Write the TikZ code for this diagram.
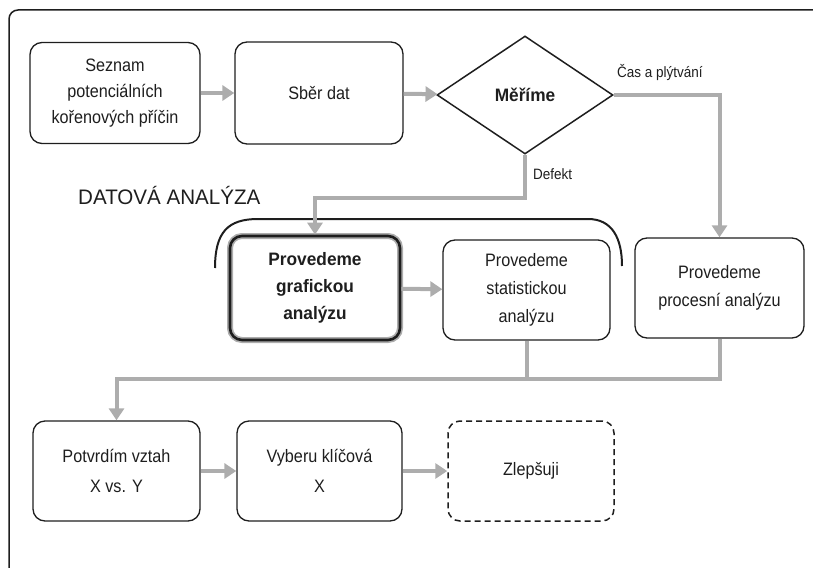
\documentclass[tikz,border=0pt]{standalone}
\usepackage{fontspec}
\setmainfont{Liberation Sans}[FakeStretch=0.9, BoldFeatures={FakeStretch=0.96}]
\newfontfamily\headfont{Liberation Sans}[FakeStretch=0.98]
\usetikzlibrary{shapes.geometric,arrows.meta}
\definecolor{ink}{HTML}{1E1E1E}
\definecolor{flow}{HTML}{ADADAD}
\tikzset{
  box/.style={draw=ink, line width=1.3pt, rounded corners=12pt, align=center,
    inner sep=0pt, text=ink, font=\fontsize{18}{26}\selectfont},
  keybox/.style={box, line width=2.6pt, font=\fontsize{18}{27}\bfseries,
    preaction={draw=flow, line width=6pt}},
  planbox/.style={box, dash pattern=on 6pt off 4pt, line width=1.5pt},
  decision/.style={diamond, draw=ink, line width=1.5pt, inner sep=0pt, text=ink,
    font=\fontsize{18}{20}\bfseries},
  flowline/.style={draw=flow, line width=4pt},
  flowarrow/.style={flowline, -{Triangle[length=12pt,width=15pt,fill=flow]}},
  tag/.style={text=ink, font=\fontsize{15}{17}\selectfont, inner sep=0pt},
}
\begin{document}
\begin{tikzpicture}[x=1pt,y=-1pt]
\useasboundingbox (0,0) rectangle (813,567);

% outer frame, cut by the page on the right and at the bottom
\draw[ink, line width=1.5pt, rounded corners=9pt] (9,570) -- (9,10) -- (816,10);

% first row
\node[box, minimum width=170pt, minimum height=101pt] (list) at (115,93)
  {Seznam\\potenciálních\\kořenových příčin};
\node[box, minimum width=168pt, minimum height=102pt] (collect) at (319,93) {Sběr dat};
\node[decision, minimum width=176pt, minimum height=118pt] (measure) at (525,95) {Měříme};

% data analysis group
\node[text=ink, font=\fontsize{21}{24}\headfont, anchor=west, inner sep=0pt]
  (title) at (78,195) {DATOVÁ ANALÝZA};
\draw[ink, line width=2pt] (215,268) .. controls (215,232) and (228,219) .. (258,219)
  -- (588,219) .. controls (612,219) and (622,238) .. (622,266);
\node[keybox, minimum width=170pt, minimum height=104pt] (graph) at (315,288)
  {Provedeme\\grafickou\\analýzu};
\node[box, minimum width=167pt, minimum height=100pt, font=\fontsize{18}{28}\selectfont]
  (stat) at (526.5,290) {Provedeme\\statistickou\\analýzu};
\node[box, minimum width=169pt, minimum height=100pt, font=\fontsize{18}{28}\selectfont]
  (process) at (719.5,288) {Provedeme\\procesní analýzu};

% last row
\node[box, minimum width=167pt, minimum height=100pt, font=\fontsize{18}{30}\selectfont]
  (confirm) at (116.5,471) {Potvrdím vztah\\X vs. Y};
\node[box, minimum width=165pt, minimum height=100pt, font=\fontsize{18}{30}\selectfont]
  (select) at (319.5,471) {Vyberu klíčová\\X};
\node[planbox, minimum width=166pt, minimum height=100pt] (improve) at (531,471) {Zlepšuji};

% connectors
\draw[flowarrow] (list) -- (collect);
\draw[flowarrow] (collect) -- (measure);
\draw[flowarrow] (measure.east) -| (process.north);
\node[tag, anchor=west] (waste) at (617,73) {Čas a plýtvání};
\draw[flowarrow] (measure.south) -- ++(0,43) -| (graph.north);
\node[tag, anchor=west] (defect) at (533,174) {Defekt};
\draw[flowarrow] (graph) -- (stat);
\draw[flowline] (stat.south) -- ++(0,38);
\draw[flowarrow] (process.south) -- ++(0,40) -| (confirm.north);
\draw[flowarrow] (confirm) -- (select);
\draw[flowarrow] (select) -- (improve);
\end{tikzpicture}
\end{document}
